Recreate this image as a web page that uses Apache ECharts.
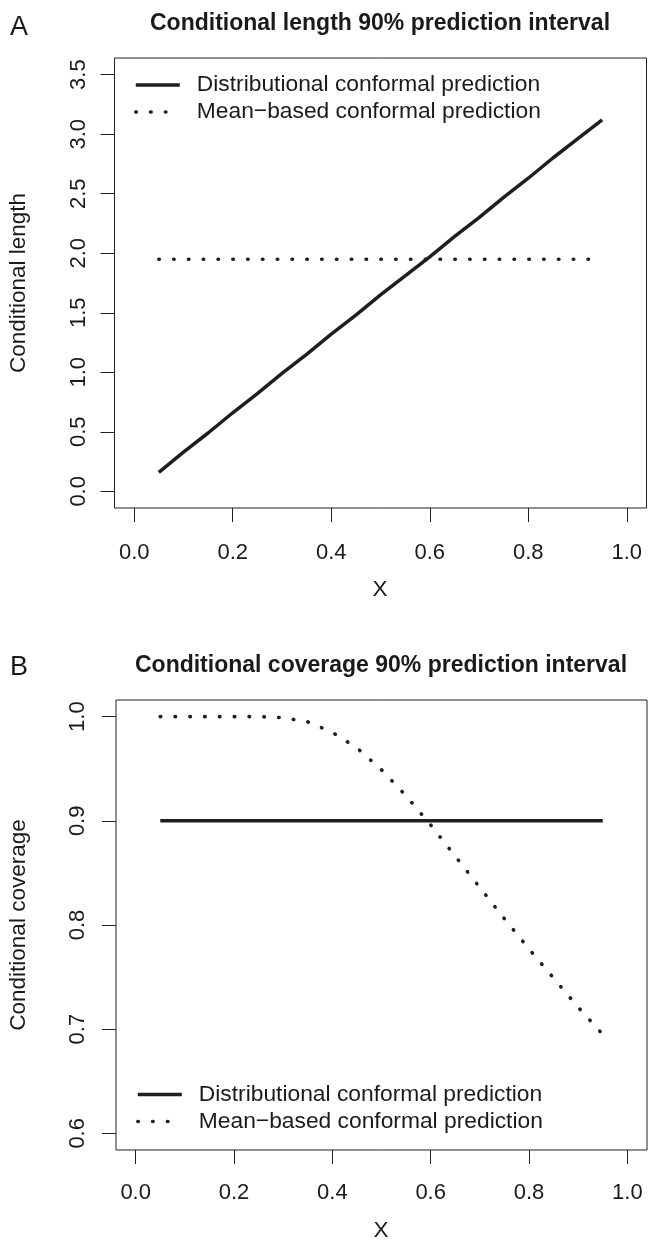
<!DOCTYPE html>
<html><head><meta charset="utf-8">
<script src="https://cdn.jsdelivr.net/npm/echarts@6/dist/echarts.min.js"></script>
<style>html,body{margin:0;padding:0;background:#fff}#c{width:648px;height:1245px}</style>
</head><body><div id="c"></div>
<script>
// ---- data ----
const xValues = [0.05,0.10,0.15,0.20,0.25,0.30,0.35,0.40,0.45,0.50,0.55,0.60,0.65,0.70,0.75,0.80,0.85,0.90,0.95];
const distLength = [0.16,0.33,0.49,0.66,0.82,0.99,1.15,1.32,1.48,1.65,1.81,1.97,2.14,2.30,2.47,2.63,2.80,2.96,3.12];
const meanLength = [1.95,1.95,1.95,1.95,1.95,1.95,1.95,1.95,1.95,1.95,1.95,1.95,1.95,1.95,1.95,1.95,1.95,1.95,1.95];
const distCoverage = [0.90,0.90,0.90,0.90,0.90,0.90,0.90,0.90,0.90,0.90,0.90,0.90,0.90,0.90,0.90,0.90,0.90,0.90,0.90];
const meanCoverage = [1.000,1.000,1.000,1.000,1.000,0.999,0.995,0.985,0.970,0.949,0.924,0.896,0.866,0.836,0.806,0.777,0.749,0.721,0.695];
const xTicks = [0,0.2,0.4,0.6,0.8,1.0];
const yTicksA = [0,0.5,1.0,1.5,2.0,2.5,3.0,3.5];
const yTicksB = [0.6,0.7,0.8,0.9,1.0];
const seriesNames = ['Distributional conformal prediction','Mean\u2212based conformal prediction'];
const titleA = 'Conditional length 90% prediction interval';
const titleB = 'Conditional coverage 90% prediction interval';

const FONT = 'Liberation Sans';
const INK = '#1a1a1a';
const pairs = (xs, ys) => xs.map((x, i) => [x, ys[i]]);

function xAxisDef(gridIndex, margin) {
  return {
    type: 'value', gridIndex, min: -0.04, max: 1.04,
    axisLine: {show: false, onZero: false},
    splitLine: {show: false},
    axisTick: {show: true, customValues: xTicks, length: 14, lineStyle: {color: '#222', width: 1}},
    axisLabel: {customValues: xTicks, formatter: v => v.toFixed(1), margin,
      fontFamily: FONT, fontSize: 22, color: INK}
  };
}
function yAxisDef(gridIndex, min, max, ticks, margin) {
  return {
    type: 'value', gridIndex, min, max,
    axisLine: {show: false, onZero: false},
    splitLine: {show: false},
    axisTick: {show: true, customValues: ticks, length: 14, lineStyle: {color: '#222', width: 1}},
    axisLabel: {customValues: ticks, formatter: v => v.toFixed(1), margin, rotate: 90,
      fontFamily: FONT, fontSize: 22, color: INK}
  };
}
const solidStyle = {color: '#1f1f1f', width: 3.5, type: 'solid'};
const dotStyle = {color: '#1f1f1f', width: 3.6, type: [0.5, 14.3], cap: 'round'};

function legendDef(left, top) {
  return {
    orient: 'vertical', left, top, padding: 0, itemGap: 0,
    itemWidth: 44, itemHeight: 14,
    selectedMode: false,
    lineStyle: {width: 'inherit'},
    itemStyle: {opacity: 0},
    data: seriesNames,
    textStyle: {fontFamily: FONT, fontSize: 22.8, color: INK, lineHeight: 27, padding: [0, 0, 0, 12]}
  };
}
function txt(text, x, y, size, opts) {
  return Object.assign({
    type: 'text', x, y, silent: true,
    style: {text, fontFamily: FONT, fontSize: size, fill: INK, align: 'center', verticalAlign: 'middle'}
  }, opts || {});
}
function boldTxt(text, x, y, size) {
  return {
    type: 'text', x, y, silent: true,
    style: {text, fontFamily: FONT, fontSize: size, fontWeight: 'bold', fill: INK, align: 'center', verticalAlign: 'middle'}
  };
}

const chart = echarts.init(document.getElementById('c'), null, {renderer: 'canvas'});
chart.setOption({
  animation: false,
  backgroundColor: '#fff',
  grid: [
    {left: 114.5, top: 58, width: 532, height: 450, show: true, borderColor: '#222', borderWidth: 1, backgroundColor: 'transparent'},
    {left: 116, top: 700, width: 531, height: 450, show: true, borderColor: '#222', borderWidth: 1, backgroundColor: 'transparent'}
  ],
  xAxis: [xAxisDef(0, 34), xAxisDef(1, 32)],
  yAxis: [yAxisDef(0, -0.14, 3.64, yTicksA, 25), yAxisDef(1, 0.584, 1.016, yTicksB, 27)],
  legend: [legendDef(134, 71.5), legendDef(136, 1081)],
  series: [
    {name: seriesNames[0], type: 'line', xAxisIndex: 0, yAxisIndex: 0, data: pairs(xValues, distLength), symbol: 'none', lineStyle: solidStyle},
    {name: seriesNames[1], type: 'line', xAxisIndex: 0, yAxisIndex: 0, data: pairs(xValues, meanLength), symbol: 'none', lineStyle: dotStyle},
    {name: seriesNames[0], type: 'line', xAxisIndex: 1, yAxisIndex: 1, data: pairs(xValues, distCoverage), symbol: 'none', lineStyle: solidStyle},
    {name: seriesNames[1], type: 'line', xAxisIndex: 1, yAxisIndex: 1, data: pairs(xValues, meanCoverage), symbol: 'none', lineStyle: dotStyle}
  ],
  graphic: [
    txt('A', 19, 28, 27),
    boldTxt(titleA, 380, 24, 23),
    txt('Conditional length', 19, 283, 22.5, {rotation: Math.PI / 2}),
    txt('X', 380, 590, 22.5),
    txt('B', 19, 668, 27),
    boldTxt(titleB, 381, 666, 23),
    txt('Conditional coverage', 19, 925, 22.5, {rotation: Math.PI / 2}),
    txt('X', 381, 1231, 22.5)
  ]
});
</script>
</body></html>
